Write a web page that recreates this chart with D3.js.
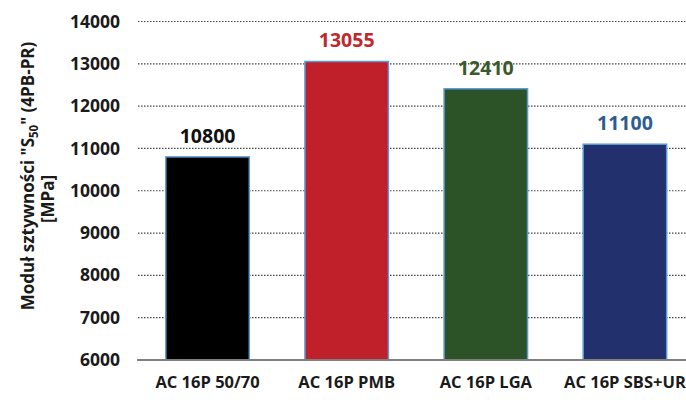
<!DOCTYPE html>
<html>
<head>
<meta charset="utf-8">
<script src="https://cdn.jsdelivr.net/npm/d3@7"></script>
<style>
  html, body { margin: 0; padding: 0; background: #fff; }
  svg { display: block; font-family: "Open Sans", "DejaVu Sans", sans-serif; }
</style>
</head>
<body>
<svg id="chart" width="686" height="400"></svg>
<script>
// Stiffness modulus S50 (4PB-PR) per asphalt mix
const categories = ["AC 16P 50/70", "AC 16P PMB", "AC 16P LGA", "AC 16P SBS+UR"];
const values = [10800, 13055, 12410, 11100];
const barColors = ["#000000", "#c0202a", "#2c5227", "#22306e"];
const labelColors = ["#111111", "#c0282d", "#3b5a2c", "#2d5c93"];
const yTicks = [6000, 7000, 8000, 9000, 10000, 11000, 12000, 13000, 14000];

const svg = d3.select("#chart");
const plotLeft = 138, plotRight = 694.5, plotTop = 21.5, plotBottom = 360;

const x = d3.scaleBand()
  .domain(categories)
  .range([plotLeft, plotRight])
  .paddingInner(0.4)
  .paddingOuter(0.2);

const y = d3.scaleLinear().domain([6000, 14000]).range([plotBottom, plotTop]);

// dotted gridlines
svg.append("g")
  .selectAll("line")
  .data(yTicks.filter(d => d > 6000))
  .join("line")
  .attr("x1", plotLeft).attr("x2", 686)
  .attr("y1", d => y(d)).attr("y2", d => y(d))
  .attr("stroke", "#444")
  .attr("stroke-width", 1.2)
  .attr("stroke-dasharray", "1.5,1.5");

// y tick labels
const yAxis = d3.axisLeft(y).tickValues(yTicks).tickSize(0).tickPadding(0).tickFormat(d3.format("d"));
svg.append("g")
  .attr("transform", `translate(120,0)`)
  .call(yAxis)
  .call(g => g.select(".domain").remove())
  .call(g => g.selectAll("text")
    .attr("font-family", "'Open Sans', sans-serif")
    .attr("font-size", 17.5)
    .attr("font-weight", "bold")
    .attr("fill", "#1a1a1a"));

// bars
svg.append("g")
  .selectAll("rect")
  .data(values)
  .join("rect")
  .attr("x", (d, i) => x(categories[i]))
  .attr("y", d => y(d))
  .attr("width", x.bandwidth())
  .attr("height", d => y(6000) - y(d))
  .attr("fill", (d, i) => barColors[i])
  .attr("stroke", "#5b9bd5")
  .attr("stroke-width", 1.5);

// baseline axis
svg.append("line")
  .attr("x1", plotLeft - 1).attr("x2", 686)
  .attr("y1", plotBottom).attr("y2", plotBottom)
  .attr("stroke", "#7f7f7f")
  .attr("stroke-width", 2);

// value labels
svg.append("g")
  .selectAll("text")
  .data(values)
  .join("text")
  .attr("x", (d, i) => x(categories[i]) + x.bandwidth() / 2)
  .attr("y", d => y(d) - 14)
  .attr("text-anchor", "middle")
  .attr("font-size", 19.5)
  .attr("font-weight", "bold")
  .attr("fill", (d, i) => labelColors[i])
  .text(d => d);

// category labels
const xAxis = d3.axisBottom(x).tickSize(0).tickPadding(0);
svg.append("g")
  .attr("transform", `translate(0,376)`)
  .call(xAxis)
  .call(g => g.select(".domain").remove())
  .call(g => g.selectAll("text")
    .attr("dy", "0.71em")
    .attr("font-family", "'Open Sans', sans-serif")
    .attr("font-size", 16.5)
    .attr("font-weight", "bold")
    .attr("fill", "#1a1a1a"));

// y-axis title
const title1 = svg.append("text")
  .attr("transform", "translate(34,176) rotate(-90)")
  .attr("text-anchor", "middle")
  .attr("font-size", 17)
  .attr("font-weight", "bold")
  .attr("fill", "#1a1a1a");
title1.append("tspan").text("Moduł sztywności \"S");
title1.append("tspan").attr("font-size", 11.5).attr("dy", 4).text("50");
title1.append("tspan").attr("dy", -4).text("\" (4PB-PR)");

svg.append("text")
  .attr("transform", "translate(54,199) rotate(-90)")
  .attr("text-anchor", "middle")
  .attr("font-size", 17)
  .attr("font-weight", "bold")
  .attr("fill", "#1a1a1a")
  .text("[MPa]");
</script>
</body>
</html>
